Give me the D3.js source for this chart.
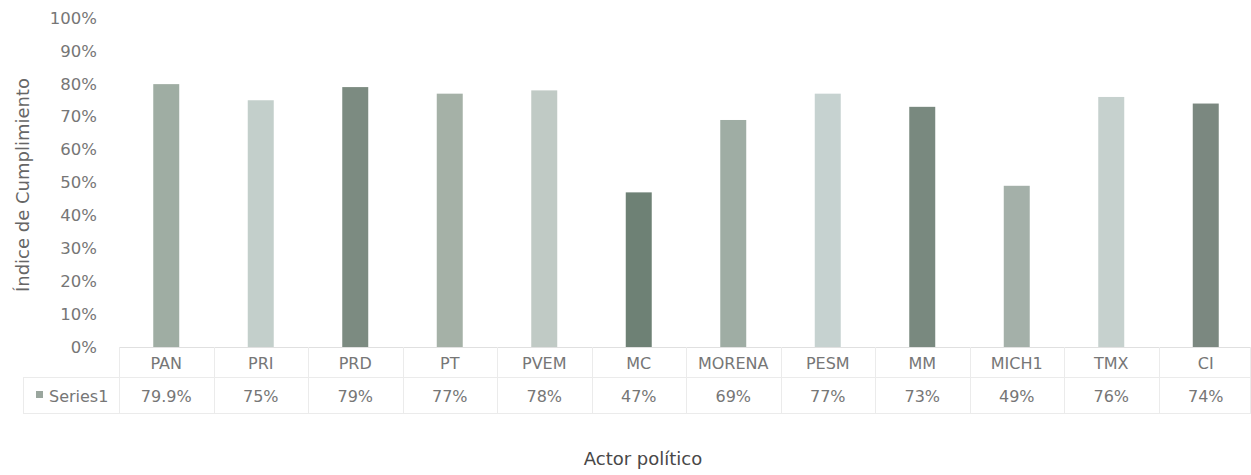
<!DOCTYPE html>
<html>
<head>
<meta charset="utf-8">
<script src="https://cdn.jsdelivr.net/npm/d3@7"></script>
<style>
  html, body { margin: 0; padding: 0; background: #fff; }
  svg { display: block; }
  text { font-family: "DejaVu Sans", sans-serif; }
</style>
</head>
<body>
<script>
const categories = ["PAN","PRI","PRD","PT","PVEM","MC","MORENA","PESM","MM","MICH1","TMX","CI"];
const values = [0.799, 0.75, 0.79, 0.77, 0.78, 0.47, 0.69, 0.77, 0.73, 0.49, 0.76, 0.74];
const valueLabels = ["79.9%","75%","79%","77%","78%","47%","69%","77%","73%","49%","76%","74%"];
const barColors = ["#9fada3","#c3cfcb","#7c8b81","#a5b1a7","#c0cac5","#6e8175","#9fada4","#c6d2d0","#79897f","#a4b0a9","#c6d1ce","#7b8880"];
const yTicks = [0,0.1,0.2,0.3,0.4,0.5,0.6,0.7,0.8,0.9,1.0];
const seriesName = "Series1";
const yTitle = "Índice de Cumplimiento";
const xTitle = "Actor político";

const W = 1251, H = 475;
const svg = d3.select("body").append("svg").attr("width", W).attr("height", H);

const x = d3.scaleBand().domain(categories).range([119, 1253]).padding(0);
const y = d3.scaleLinear().domain([0, 1]).range([347, 18]);
const barW = x.bandwidth() * 0.275;
const textCol = "#767676";

// y axis
const yAxis = d3.axisLeft(y).tickValues(yTicks).tickSize(0).tickPadding(22).tickFormat(d3.format(".0%"));
const gy = svg.append("g").attr("transform", "translate(119,0)").call(yAxis);
gy.select(".domain").remove();
gy.selectAll("text").attr("fill", textCol).style("font-size", "16.5px").style("font-family", "'DejaVu Sans', sans-serif");

// bars
svg.append("g").selectAll("rect").data(categories).join("rect")
  .attr("x", d => x(d) + x.bandwidth()/2 - barW/2)
  .attr("y", (d,i) => y(values[i]))
  .attr("width", barW)
  .attr("height", (d,i) => y(0) - y(values[i]))
  .attr("fill", (d,i) => barColors[i]);

// table grid
const grid = svg.append("g").attr("stroke", "#ebebeb").attr("stroke-width", 1);
grid.append("line").attr("x1", 119).attr("x2", 1253).attr("y1", 347.5).attr("y2", 347.5).attr("stroke", "#e0e0e0");
grid.append("line").attr("x1", 23).attr("x2", 1253).attr("y1", 377.5).attr("y2", 377.5);
grid.append("line").attr("x1", 23).attr("x2", 1253).attr("y1", 413.5).attr("y2", 413.5);
grid.append("line").attr("x1", 23.5).attr("x2", 23.5).attr("y1", 377).attr("y2", 414);
grid.selectAll(".v").data(categories).join("line")
  .attr("x1", d => Math.round(x(d)) + 0.5).attr("x2", d => Math.round(x(d)) + 0.5)
  .attr("y1", 347).attr("y2", 414);
grid.append("line").attr("x1", 1250.5).attr("x2", 1250.5).attr("y1", 347).attr("y2", 414);

// category labels
svg.append("g").selectAll("text").data(categories).join("text")
  .attr("x", d => x(d) + x.bandwidth()/2)
  .attr("y", 369)
  .attr("text-anchor", "middle")
  .attr("fill", textCol)
  .style("font-size", "16px")
  .text(d => d);

// value labels
svg.append("g").selectAll("text").data(categories).join("text")
  .attr("x", d => x(d) + x.bandwidth()/2)
  .attr("y", 402)
  .attr("text-anchor", "middle")
  .attr("fill", textCol)
  .style("font-size", "16px")
  .text((d,i) => valueLabels[i]);

// legend key
svg.append("rect").attr("x", 36).attr("y", 391).attr("width", 7).attr("height", 7).attr("fill", "#9aa69e");
svg.append("text").attr("x", 49).attr("y", 402).attr("fill", textCol).style("font-size", "16px").text(seriesName);

// axis titles
svg.append("text")
  .attr("transform", "translate(29,185) rotate(-90)")
  .attr("text-anchor", "middle")
  .attr("fill", "#666")
  .style("font-size", "18px")
  .text(yTitle);

svg.append("text")
  .attr("x", 643).attr("y", 465)
  .attr("text-anchor", "middle")
  .attr("fill", "#484848")
  .style("font-size", "18px")
  .text(xTitle);
</script>
</body>
</html>
